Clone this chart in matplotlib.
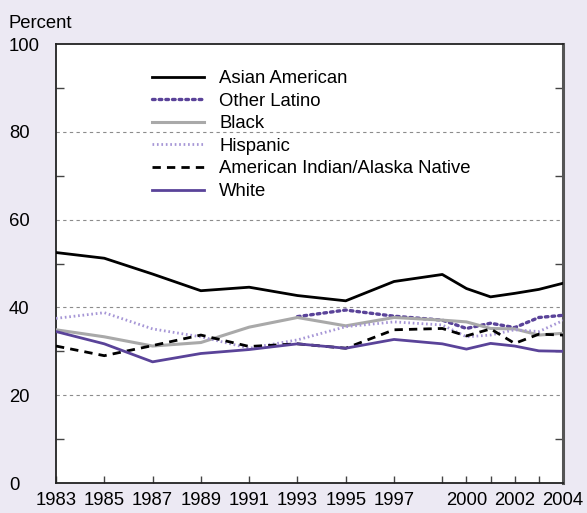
import matplotlib
matplotlib.use("Agg")
import matplotlib.pyplot as plt
from matplotlib.ticker import FixedLocator

plt.rcParams['font.family'] = ['Liberation Sans', 'DejaVu Sans']

years = [1983, 1985, 1987, 1989, 1991, 1993, 1995, 1997, 1999,
         2000, 2001, 2002, 2003, 2004]
label_years = [1983, 1985, 1987, 1989, 1991, 1993, 1995, 1997, 2000, 2002, 2004]

asian = [52.5, 51.2, 47.6, 43.8, 44.6, 42.7, 41.5, 45.9, 47.5, 44.3, 42.4, 43.2, 44.1, 45.5]
latino_years = [1993, 1995, 1997, 1999, 2000, 2001, 2002, 2003, 2004]
other_latino = [37.9, 39.4, 38.0, 37.1, 35.2, 36.4, 35.4, 37.7, 38.2]
black = [34.9, 33.3, 31.2, 32.0, 35.5, 37.7, 35.8, 37.7, 37.1, 36.7, 35.2, 35.1, 33.7, 34.1]
hispanic = [37.5, 38.8, 35.1, 33.3, 30.7, 32.6, 35.6, 36.7, 36.0, 33.3, 33.7, 34.9, 34.5, 37.0]
am_indian = [31.2, 29.0, 31.3, 33.7, 31.1, 31.7, 30.7, 34.9, 35.2, 33.5, 35.1, 31.8, 33.9, 33.7]
white = [34.5, 31.7, 27.6, 29.5, 30.4, 31.7, 30.7, 32.7, 31.7, 30.5, 31.8, 31.2, 30.1, 30.0]

bg = '#ECE9F3'
purple = '#5A4399'
lavender = '#A696D6'
fs = 13.3

fig = plt.figure(figsize=(5.87, 5.13), dpi=100, facecolor=bg)
ax = fig.add_axes([56 / 587, 30 / 513, 507 / 587, 439 / 513])
ax.set_facecolor('white')

for v in [20, 40, 60, 80]:
    ax.axhline(v, color='#8c8c8c', lw=0.8, ls=(0, (3, 3)), zorder=1)

ax.plot(years, asian, color='black', lw=2.0, label='Asian American', zorder=3)
ax.plot(latino_years, other_latino, color=purple, lw=2.4, ls=(0, (0.8, 1.2)),
        dash_capstyle='round', label='Other Latino', zorder=3)
ax.plot(years, black, color='#A9A9A9', lw=2.2, label='Black', zorder=3)
ax.plot(years, hispanic, color=lavender, lw=2.0, ls=(0, (0.6, 1.0)),
        label='Hispanic', zorder=3)
ax.plot(years, am_indian, color='black', lw=2.0, ls=(0, (3, 2.2)),
        label='American Indian/Alaska Native', zorder=3)
ax.plot(years, white, color=purple, lw=2.0, label='White', zorder=3)

ax.set_xlim(1983, 2004)
ax.set_ylim(0, 100)

ax.xaxis.set_major_locator(FixedLocator(label_years))
ax.set_xticklabels([str(y) for y in label_years])
ax.xaxis.set_minor_locator(FixedLocator([y for y in years if y not in label_years]))
ax.tick_params(axis='x', which='both', direction='in', length=5, width=1,
               color='#444444', labelsize=fs, pad=6.5)

ax.set_yticks([0, 20, 40, 60, 80, 100])
ax.yaxis.set_minor_locator(FixedLocator([10, 30, 50, 70, 90]))
ax.tick_params(axis='y', which='major', length=0, labelsize=fs, pad=34)
ax.tick_params(axis='y', which='minor', direction='in', length=6, width=1,
               color='#444444', left=True, right=True)
for lab in ax.get_yticklabels():
    lab.set_horizontalalignment('left')

for side in ['left', 'top', 'bottom']:
    ax.spines[side].set_linewidth(1.3)
    ax.spines[side].set_color('#222222')
ax.spines['right'].set_linewidth(2.2)
ax.spines['right'].set_color('#555555')

fig.text(8 / 587, 1 - 28 / 513, 'Percent', fontsize=fs, va='baseline', ha='left')

leg = ax.legend(loc='upper left', bbox_to_anchor=(0.174, 0.957), frameon=False,
                fontsize=fs, handlelength=2.85, handletextpad=0.8,
                labelspacing=0.3, borderaxespad=0)

fig.savefig('out.png', dpi=100, facecolor=bg)
